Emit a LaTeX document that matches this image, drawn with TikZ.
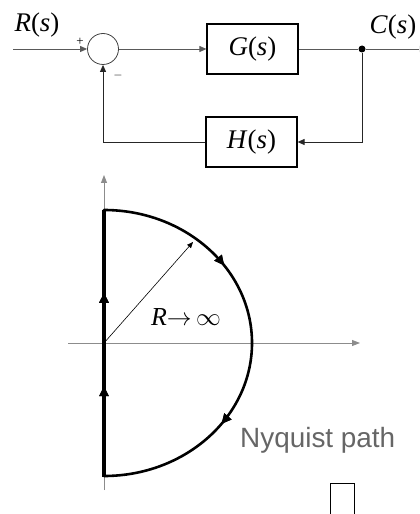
\documentclass[tikz,border=0pt]{standalone}
\usepackage{fontspec}
\setmainfont{Liberation Serif}
\newfontfamily\pathsans{Liberation Sans}
\usepackage{tikz}
\usetikzlibrary{arrows.meta,positioning,calc,decorations.markings}
\tikzset{
  blk/.style={draw,line width=1.2pt,minimum width=91bp,minimum height=50bp,
              inner sep=0pt,font=\fontsize{27}{30}\selectfont},   % G, H blocks
  sumjn/.style={draw,black!75,circle,minimum size=31bp,inner sep=0pt,line width=0.8pt},
  sig/.style={black!65,line width=0.9pt},
  ar/.style={sig,-{Triangle[length=7bp,width=6bp]}},
  sgn/.style={font=\fontsize{13}{13}\selectfont,inner sep=0pt},
  lbl/.style={font=\fontsize{27}{30}\selectfont,inner sep=0pt},
  axis/.style={black!45,line width=0.9pt,-{Triangle[length=8bp,width=6bp]}},
  nyq/.style={line width=2.6pt,line cap=round},
  tipmark/.style={postaction=decorate,decoration={markings,
      mark=at position #1 with {\arrow{Triangle[length=10bp,width=9bp]}}}}
}

\begin{document}
\begin{tikzpicture}[x=1bp,y=-1bp]
  \useasboundingbox (0,0) rectangle (419,514);
  \clip (0,0) rectangle (419,514);
  % block diagram
  \node[sumjn] (sum) at (103,49) {};
  \node[blk] (g) at (252.5,49) {\textit{G}(\textit{s})};
  \node[blk] (h) at (251.5,142) {\textit{H}(\textit{s})};
  \node[circle,fill,inner sep=0pt,minimum size=7bp] (dot) at (362,49) {};
  \coordinate (in) at (13,49);
  \coordinate (out) at (426,49);
  \node[lbl] (rs) at (37,25) {\textit{R}(\textit{s})};
  \node[lbl] (cs) at (393,27) {\textit{C}(\textit{s})};
  \node[sgn] (plus) at (80,42) {+};
  \node[sgn] (minus) at (118,76) {$-$};
  \draw[ar] (in) -- (sum.west);
  \draw[ar] (sum.east) -- (g.west);
  \draw[sig] (g.east) -- (dot);
  \draw[ar] (dot) -- (out);
  \draw[ar,black!85] (dot) |- (h.east);
  \draw[ar,black!85] (h.west) -| (sum.south);
  % Nyquist contour
  \coordinate (o) at (104,343);
  \coordinate (top) at (104,210);
  \coordinate (bot) at (104,477);
  \coordinate (ylo) at (104,490);
  \coordinate (yhi) at (104,175);
  \coordinate (xlo) at (68,343);
  \coordinate (xhi) at (360,343);
  \coordinate (rtip) at (193,242);
  \draw[axis] (ylo) -- (yhi);
  \draw[axis] (xlo) -- (xhi);
  \draw[nyq,tipmark=0.31,tipmark=0.70] (top) arc[start angle=-90,end angle=90,x radius=148,y radius=133];
  \draw[line width=4.5pt,tipmark=0.34,tipmark=0.69] (bot) -- (top);
  \draw[line width=0.6pt,-{Triangle[length=6bp,width=5bp]}] (o) -- (rtip);
  \node[font=\fontsize{26}{28}\selectfont] (rinf) at (186,317) {\textit{R}$\rightarrow$\,$\infty$};
  \node[anchor=base west,inner sep=0pt,text=black!60,font=\pathsans\fontsize{28}{30}\selectfont] (nlbl) at (240,447) {Nyquist path};
  \draw[line width=0.8pt] (330,483) rectangle (354,520);
\end{tikzpicture}
\end{document}
